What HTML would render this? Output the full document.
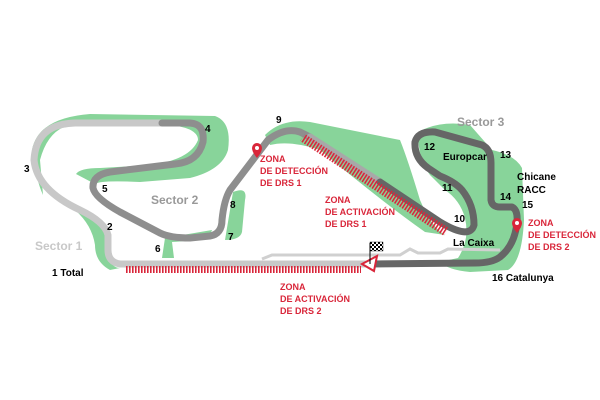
<!DOCTYPE html>
<html><head><style>
html,body{margin:0;padding:0;background:#fff;width:600px;height:400px;overflow:hidden}
svg text{font-family:"Liberation Sans",sans-serif}
</style></head><body>
<svg width="600" height="400" viewBox="0 0 600 400" xmlns="http://www.w3.org/2000/svg">
<defs>
<pattern id="st" width="3" height="3" patternUnits="userSpaceOnUse"><rect width="1.6" height="3" fill="#d9263a"/></pattern>
<pattern id="st2" width="3" height="3" patternUnits="userSpaceOnUse" patternTransform="rotate(33)"><rect width="1.6" height="3" fill="#d9263a"/></pattern>
<pattern id="chk" width="4" height="4" patternUnits="userSpaceOnUse"><rect width="2" height="2" fill="#000"/><rect x="2" y="2" width="2" height="2" fill="#000"/></pattern>
</defs>
<g fill="#88d49a">
<path d="M32,150 Q38,118 90,114 L215,116 Q232,122 228,150 Q222,170 190,178 L140,182 Q100,180 95,184 L76,174 Q80,168 100,168 L150,165 Q190,160 198,140 Q198,128 170,125 L70,125 Q48,130 40,160 L43,195 Q36,180 32,150 Z"/>
<path d="M75,210 Q100,215 108,230 L110,258 Q112,268 120,268 L110,270 Q95,262 95,245 Q92,225 75,210 Z"/>
<path d="M165,238 L212,230 Q210,240 172,242 L174,258 L162,258 Z"/>
<path d="M233,192 Q248,186 245,200 L242,232 Q240,240 225,240 Z"/>
<path d="M265,135 Q282,118 310,122 L400,140 Q408,160 420,200 Q432,228 445,235 L425,232 Q380,200 320,150 Q290,140 270,145 Z"/>
<path d="M418,132 Q440,120 470,125 L492,150 Q515,155 522,168 L524,220 Q522,262 508,270 L470,272 Q448,270 440,262 L458,258 Q470,240 465,218 Q460,200 445,190 L430,175 Q418,160 418,132 Z"/>
</g>
<g fill="none" stroke-linecap="round" stroke-linejoin="round" stroke-width="7">
<path d="M265,264 L120,264 Q108,262 108,250 L108,235 Q105,222 80,210 Q37,190 34,160 Q36,124 75,123 L162,123" stroke="#c8c8c8"/>
<path d="M162,123 L190,123 Q205,124 203,142 Q198,162 175,164 L110,172 Q92,175 93,188 Q95,198 120,212 L160,233 Q170,238 190,238 L210,236 Q222,234 222,220 Q224,200 230,190 L268,140 Q285,127 300,132 L310,137" stroke="#8e8e8e"/>
<path d="M310,137 L380,182" stroke="#a8a8a8"/>
<path d="M380,182 L440,222 Q470,240 474,225 Q474,205 462,190 Q455,182 440,176 L428,168 Q414,158 415,142 Q418,131 435,132 L482,145 Q491,149 491,163 L491,200 Q492,207 500,207 L512,207 Q518,210 517,222 Q515,245 500,257 Q492,263 475,263 L370,264" stroke="#666"/>
<path d="M265,264 L370,264" stroke="#c8c8c8"/>
</g>
<path d="M262,259 L272,255 L400,255 L410,249 L418,253 L440,253 L448,249 L500,250" fill="none" stroke="#d0d0d0" stroke-width="3"/>
<rect x="125" y="266" width="236" height="7" fill="url(#st)"/>
<polygon points="300,141 305,134 449,228 444,236" fill="url(#st2)"/>
<polygon points="362,264 377,256 374,271" fill="#fff" stroke="#d9263a" stroke-width="2"/>
<line x1="370" y1="243" x2="370" y2="264" stroke="#000" stroke-width="1"/>
<rect x="370" y="242" width="13" height="9" fill="url(#chk)" stroke="#000" stroke-width="0.4"/>
<g fill="#d9263a"><path d="M252,148 a5,5 0 0 1 10,0 q0,4 -5,10 q-5,-6 -5,-10z"/><path d="M512,223 a5,5 0 0 1 10,0 q0,4 -5,10 q-5,-6 -5,-10z"/></g>
<circle cx="257" cy="148" r="2" fill="#fff"/><circle cx="517" cy="223" r="2" fill="#fff"/>
<g font-size="9" fill="#d9263a" font-weight="bold">
<text x="260" y="162">ZONA</text><text x="260" y="174">DE DETECCIÓN</text><text x="260" y="186">DE DRS 1</text>
<text x="325" y="203">ZONA</text><text x="325" y="215">DE ACTIVACIÓN</text><text x="325" y="227">DE DRS 1</text>
<text x="528" y="226">ZONA</text><text x="528" y="238">DE DETECCIÓN</text><text x="528" y="250">DE DRS 2</text>
<text x="280" y="290">ZONA</text><text x="280" y="302">DE ACTIVACIÓN</text><text x="280" y="314">DE DRS 2</text>
</g>
<g font-size="10" fill="#000" font-weight="bold">
<text x="205" y="132">4</text><text x="24" y="172">3</text><text x="102" y="192">5</text><text x="107" y="230">2</text>
<text x="155" y="252">6</text><text x="228" y="240">7</text><text x="230" y="208">8</text><text x="276" y="123">9</text>
<text x="454" y="222">10</text><text x="442" y="191">11</text><text x="424" y="150">12</text><text x="500" y="158">13</text>
<text x="500" y="200">14</text><text x="522" y="208">15</text>
<text x="52" y="276">1 Total</text><text x="492" y="281">16 Catalunya</text>
<text x="443" y="160">Europcar</text><text x="517" y="180">Chicane</text><text x="517" y="193">RACC</text>
<text x="453" y="246">La Caixa</text>
</g>
<g font-size="12" font-weight="bold" fill="#999">
<text x="151" y="204">Sector 2</text><text x="457" y="126">Sector 3</text>
</g>
<text x="35" y="250" font-size="12" font-weight="bold" fill="#c8c8c8">Sector 1</text>
</svg>
</body></html>
